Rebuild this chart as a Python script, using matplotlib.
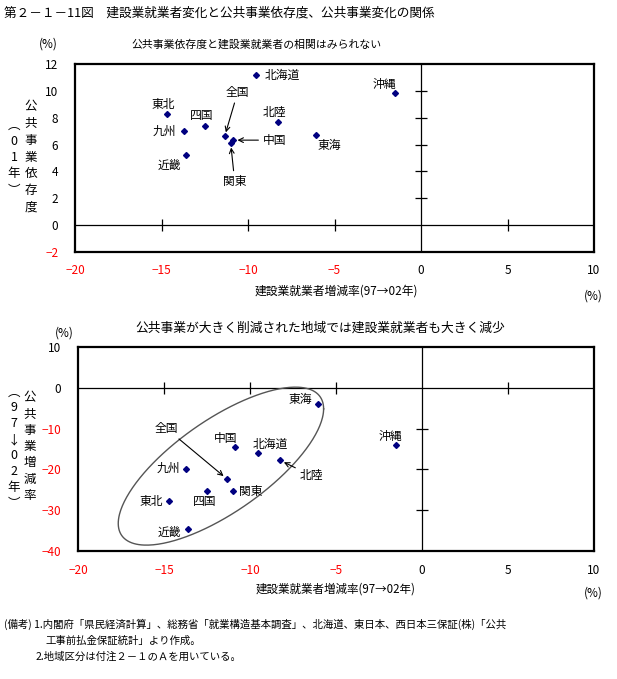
import numpy as np
import matplotlib
matplotlib.use('Agg')
import matplotlib.pyplot as plt

plt.rcParams['font.family'] = ['Noto Sans CJK JP', 'DejaVu Sans']

# データ
regions = ['北海道', '東北', '関東', '北陸', '東海', '近畿', '中国', '四国', '九州', '沖縄', '全国']
emp_change = [-9.55, -14.7, -11.0, -8.25, -6.05, -13.6, -10.85, -12.5, -13.7, -1.5, -11.35]
pw_dependence = [11.18, 8.27, 6.09, 7.67, 6.68, 5.19, 6.33, 7.35, 7.0, 9.81, 6.61]
pw_change = [-15.9, -27.7, -25.4, -17.8, -3.9, -34.5, -14.6, -25.2, -19.85, -14.1, -22.3]

xticks = [-20, -15, -10, -5, 0, 5, 10]
yticks_top = [-2, 0, 2, 4, 6, 8, 10, 12]
yticks_bot = [-40, -30, -20, -10, 0, 10]

# ラベル位置（点からのオフセット, pixel）
offs_top = {'北海道': (26, 0), '東北': (-3, 10), '関東': (4, -38), '北陸': (-4, 10),
            '東海': (13, -10), '近畿': (-16, -10), '中国': (41, 0), '四国': (-3, 11),
            '九州': (-20, 0), '沖縄': (-11, 9), '全国': (13, 44)}
arrows_top = ['全国', '中国', '関東']
offs_bot = {'北海道': (13, 8), '東北': (-18, -1), '関東': (18, 0), '北陸': (31, -15),
            '東海': (-18, 4), '近畿': (-19, -4), '中国': (-10, 9), '四国': (-2, -11),
            '九州': (-18, 0), '沖縄': (-6, 9), '全国': (-60, 50)}
arrows_bot = ['全国', '北陸']

# 楕円（データ座標）
ell_c = (-11.69, -19.2)
ell_sx, ell_sy, ell_rho = 5.97, 19.36, 0.725

W, H = 617, 679
fig = plt.figure(figsize=(W / 100, H / 100), dpi=100)


def fx(px):
    return px / W


def fy(py):
    return 1 - py / H


def vtext(x, y0, step, chars, size=9):
    for i, c in enumerate(chars):
        fig.text(fx(x), fy(y0 + i * step), c, ha='center', va='center', fontsize=size)


def setup(ax, ylim, yticks):
    ax.set_xlim(-20, 10)
    ax.set_ylim(*ylim)
    ax.set_xticks(xticks)
    ax.set_yticks(yticks)
    ax.tick_params(length=0, labelsize=8.5)
    ax.tick_params(axis='x', pad=9)
    ax.tick_params(axis='y', pad=12)
    for lab, v in zip(ax.get_xticklabels(), xticks):
        lab.set_color('red' if v < 0 else 'black')
    for lab, v in zip(ax.get_yticklabels(), yticks):
        lab.set_color('red' if v < 0 else 'black')
    for sp in ax.spines.values():
        sp.set_linewidth(1.6)
    ax.axhline(0, color='black', lw=0.9)
    ax.axvline(0, color='black', lw=0.9)
    xt = [v for v in xticks if v not in (0, xticks[0], xticks[-1])]
    yt = [v for v in yticks if v not in (0, yticks[0], yticks[-1])]
    ax.plot(xt, np.zeros(len(xt)), ls='none', marker='|', ms=8, mew=0.9, color='black')
    ax.plot(np.zeros(len(yt)), yt, ls='none', marker='_', ms=8, mew=0.9, color='black')


def label_points(ax, ys, offs, arrows):
    for name, x, y in zip(regions, emp_change, ys):
        ap = None
        if name in arrows:
            ap = dict(arrowstyle='->', color='black', lw=0.8, shrinkA=1, shrinkB=3)
        ax.annotate(name, xy=(x, y), xytext=offs[name], textcoords='offset pixels',
                    ha='center', va='center', fontsize=8.5, arrowprops=ap)


# 上段
ax1 = fig.add_axes([fx(75), fy(252), fx(594) - fx(75), fy(64) - fy(252)])
setup(ax1, (-2, 12), yticks_top)
ax1.plot(emp_change, pw_dependence, ls='none', marker='D', ms=3, color='#000080')
label_points(ax1, pw_dependence, offs_top, arrows_top)

# 下段
ax2 = fig.add_axes([fx(78), fy(551), fx(594) - fx(78), fy(347) - fy(551)])
setup(ax2, (-40, 10), yticks_bot)
ax2.plot(emp_change, pw_change, ls='none', marker='D', ms=3, color='#000080')
label_points(ax2, pw_change, offs_bot, arrows_bot)
t = np.linspace(0, 2 * np.pi, 300)
ex = ell_c[0] + ell_sx * np.cos(t)
ey = ell_c[1] + ell_sy * (ell_rho * np.cos(t) + np.sqrt(1 - ell_rho ** 2) * np.sin(t))
ax2.plot(ex, ey, color='#555555', lw=1.0)

# テキスト
fig.text(fx(4), fy(13), '第２－１－11図　建設業就業者変化と公共事業依存度、公共事業変化の関係',
         ha='left', va='center', fontsize=9.1)
fig.text(fx(257), fy(44), '公共事業依存度と建設業就業者の相関はみられない', ha='center', va='center', fontsize=7.8)
fig.text(fx(48), fy(44), '(%)', ha='center', va='center', fontsize=8.5)
fig.text(fx(336), fy(291), '建設業就業者増減率(97→02年)', ha='center', va='center', fontsize=8.5)
fig.text(fx(593), fy(296), '(%)', ha='center', va='center', fontsize=8.5)
vtext(31, 107, 16.7, '公共事業依存度')
vtext(14, 125, 16.3, ['︵', '0', '1', '年', '︶'])

fig.text(fx(320), fy(328), '公共事業が大きく削減された地域では建設業就業者も大きく減少',
         ha='center', va='center', fontsize=9.2)
fig.text(fx(64), fy(333), '(%)', ha='center', va='center', fontsize=8.5)
fig.text(fx(336), fy(589), '建設業就業者増減率(97→02年)', ha='center', va='center', fontsize=8.3)
fig.text(fx(593), fy(593), '(%)', ha='center', va='center', fontsize=8.5)
vtext(30, 398, 16.2, '公共事業増減率')
vtext(14, 392, 15.9, ['︵', '9', '7', '↓', '0', '2', '年', '︶'])

fig.text(fx(4), fy(624), '(備考) 1.内閣府「県民経済計算」、総務省「就業構造基本調査」、北海道、東日本、西日本三保証(株)「公共',
         ha='left', va='center', fontsize=7.5)
fig.text(fx(45), fy(641), '工事前払金保証統計」より作成。', ha='left', va='center', fontsize=7.5)
fig.text(fx(36), fy(657), '2.地域区分は付注２－１のＡを用いている。', ha='left', va='center', fontsize=7.5)

fig.savefig('out.png', dpi=100)
